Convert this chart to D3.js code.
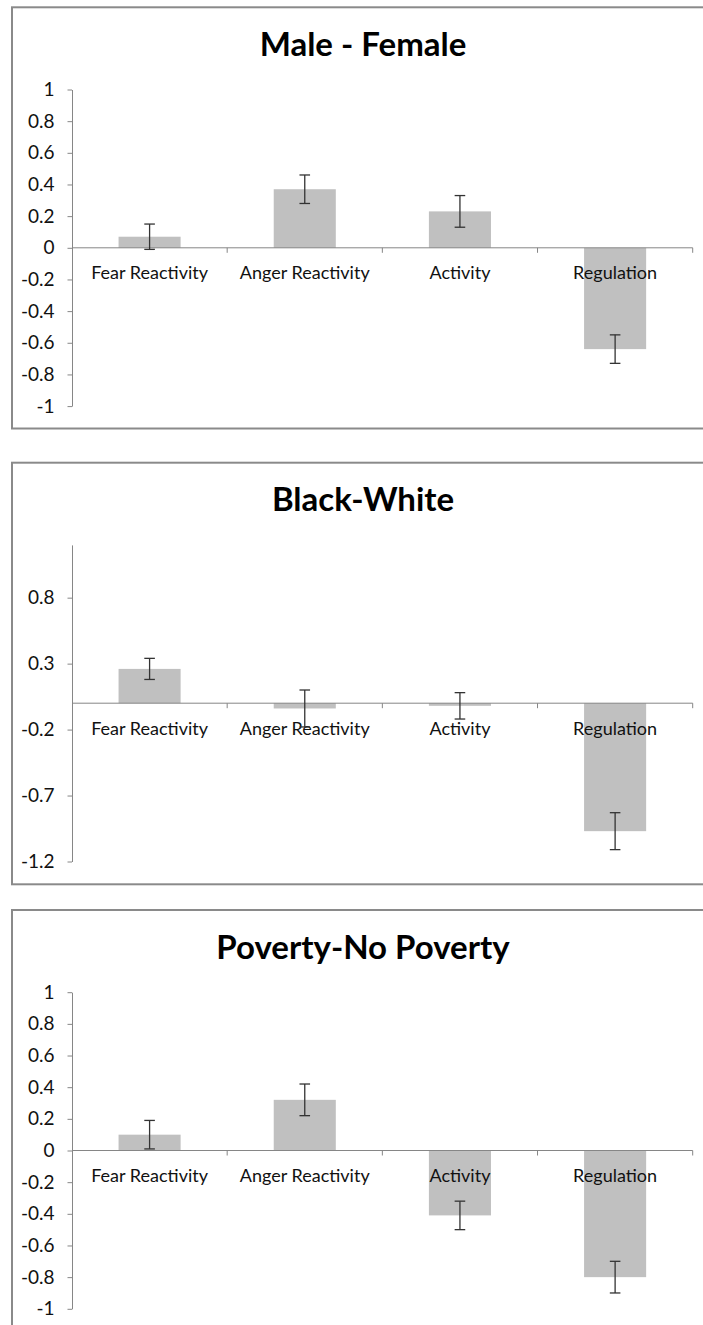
<!DOCTYPE html>
<html>
<head>
<meta charset="utf-8">
<script src="https://cdn.jsdelivr.net/npm/d3@7"></script>
<style>
  html, body { margin: 0; padding: 0; background: #ffffff; }
  svg { display: block; }
  text { font-family: Lato, "Open Sans", sans-serif; }
</style>
</head>
<body>
<svg id="chart" width="703" height="1325"></svg>
<script>
// Temperament dimensions compared across groups (mean difference ± error)
const categories = ["Fear Reactivity", "Anger Reactivity", "Activity", "Regulation"];

const maleFemaleMeans  = [0.07, 0.37, 0.23, -0.64];
const maleFemaleErrors = [0.08, 0.09, 0.10, 0.09];
const maleFemaleDomain = [-1, 1];
const maleFemaleTicks  = [-1, -0.8, -0.6, -0.4, -0.2, 0, 0.2, 0.4, 0.6, 0.8, 1];

const blackWhiteMeans  = [0.26, -0.04, -0.02, -0.97];
const blackWhiteErrors = [0.08, 0.14, 0.10, 0.14];
const blackWhiteDomain = [-1.2, 1.2];
const blackWhiteTicks  = [-1.2, -0.7, -0.2, 0.3, 0.8];

const povertyMeans  = [0.10, 0.32, -0.41, -0.80];
const povertyErrors = [0.09, 0.10, 0.09, 0.10];
const povertyDomain = [-1, 1];
const povertyTicks  = [-1, -0.8, -0.6, -0.4, -0.2, 0, 0.2, 0.4, 0.6, 0.8, 1];

const panels = [
  { title: "Male - Female",      means: maleFemaleMeans, errors: maleFemaleErrors, domain: maleFemaleDomain, ticks: maleFemaleTicks, top: 7.3,   height: 421.2 },
  { title: "Black-White",        means: blackWhiteMeans, errors: blackWhiteErrors, domain: blackWhiteDomain, ticks: blackWhiteTicks, top: 462.7, height: 421.6 },
  { title: "Poverty-No Poverty", means: povertyMeans,    errors: povertyErrors,    domain: povertyDomain,    ticks: povertyTicks,    top: 910,   height: 430 }
];

const svg = d3.select("#chart");

// Shared geometry of each chart box (the box runs past the right edge of the page)
const boxLeft = 12, boxWidth = 730, titleCenter = 363;
const plotLeft = 72, plotRight = 692.7;
const plotTopOffset = 82.2, plotBottomOffset = 398.8;
const axisColor = "#868686";
const barColor = "#c0c0c0";
const errColor = "#333333";

const x = d3.scaleBand()
  .domain(categories)
  .range([plotLeft, plotRight])
  .paddingInner(0.6)
  .paddingOuter(0.3);

const step = x.step();

panels.forEach(p => {
  const g = svg.append("g");

  // chart border
  g.append("rect")
    .attr("x", boxLeft)
    .attr("y", p.top)
    .attr("width", boxWidth)
    .attr("height", p.height)
    .attr("fill", "#ffffff")
    .attr("stroke", "#8a8a8a")
    .attr("stroke-width", 2);

  // title
  g.append("text")
    .attr("x", titleCenter)
    .attr("y", p.top + 48.5)
    .attr("text-anchor", "middle")
    .attr("font-size", 33)
    .attr("font-weight", 700)
    .attr("fill", "#000")
    .text(p.title);

  const y = d3.scaleLinear()
    .domain(p.domain)
    .range([p.top + plotBottomOffset, p.top + plotTopOffset]);

  const y0 = y(0);

  // bars
  g.selectAll("rect.bar")
    .data(categories)
    .join("rect")
    .attr("class", "bar")
    .attr("x", d => x(d))
    .attr("width", x.bandwidth())
    .attr("y", (d, i) => Math.min(y(p.means[i]), y0))
    .attr("height", (d, i) => Math.abs(y(p.means[i]) - y0))
    .attr("fill", barColor);

  // y axis
  const yAxis = d3.axisLeft(y)
    .tickValues(p.ticks)
    .tickSize(4.5)
    .tickPadding(13)
    .tickSizeOuter(0)
    .tickFormat(d => String(d));

  const ya = g.append("g")
    .attr("transform", `translate(${plotLeft},0)`)
    .call(yAxis);
  ya.select(".domain").attr("stroke", axisColor);
  ya.selectAll(".tick line").attr("stroke", axisColor);
  ya.selectAll(".tick text")
    .attr("font-size", 19)
    .attr("font-family", "Lato, sans-serif")
    .attr("fill", "#111");

  // horizontal category axis at zero, ticks between categories
  g.append("line")
    .attr("x1", plotLeft).attr("x2", plotRight)
    .attr("y1", y0).attr("y2", y0)
    .attr("stroke", axisColor);

  const bounds = categories.map(c => x(c) - x.bandwidth() * 0.75 + step);
  g.selectAll("line.xtick")
    .data(bounds)
    .join("line")
    .attr("class", "xtick")
    .attr("x1", d => d).attr("x2", d => d)
    .attr("y1", y0).attr("y2", y0 + 5)
    .attr("stroke", axisColor);

  // category labels
  g.selectAll("text.cat")
    .data(categories)
    .join("text")
    .attr("class", "cat")
    .attr("x", d => x(d) + x.bandwidth() / 2)
    .attr("y", y0 + 31.5)
    .attr("text-anchor", "middle")
    .attr("font-size", 18)
    .attr("fill", "#111")
    .text(d => d);

  // error bars
  const eb = g.selectAll("g.err")
    .data(categories)
    .join("g")
    .attr("class", "err")
    .attr("stroke", errColor)
    .attr("stroke-width", 1.3);

  eb.append("line")
    .attr("x1", d => x(d) + x.bandwidth() / 2)
    .attr("x2", d => x(d) + x.bandwidth() / 2)
    .attr("y1", (d, i) => y(p.means[i] + p.errors[i]))
    .attr("y2", (d, i) => y(p.means[i] - p.errors[i]));

  [1, -1].forEach(s => {
    eb.append("line")
      .attr("x1", d => x(d) + x.bandwidth() / 2 - 5.3)
      .attr("x2", d => x(d) + x.bandwidth() / 2 + 5.3)
      .attr("y1", (d, i) => y(p.means[i] + s * p.errors[i]))
      .attr("y2", (d, i) => y(p.means[i] + s * p.errors[i]));
  });
});
</script>
</body>
</html>
